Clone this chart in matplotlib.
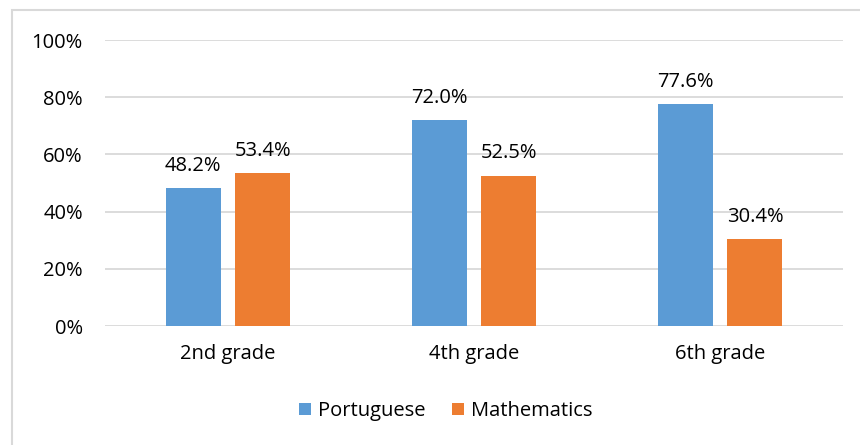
import matplotlib.pyplot as plt
from matplotlib.patches import Rectangle
import numpy as np

categories = ["2nd grade", "4th grade", "6th grade"]
portuguese = [48.2, 72.0, 77.6]
mathematics = [53.4, 52.5, 30.4]
yticks = [0, 20, 40, 60, 80, 100]
ytick_labels = ["0%", "20%", "40%", "60%", "80%", "100%"]

blue = "#5B9BD5"
orange = "#ED7D31"
grid = "#D9D9D9"
text_color = "#000000"
fs = 14.5

plt.rcParams["font.family"] = ["Open Sans", "DejaVu Sans"]

fig = plt.figure(figsize=(8.6, 4.45), dpi=100)
ax = fig.add_axes([105 / 860, 1 - 326 / 445, 738 / 860, 286 / 445])

x = np.arange(len(categories))
width = 0.224
offset = 0.142
b1 = ax.bar(x - offset, portuguese, width, color=blue, label="Portuguese", zorder=3)
b2 = ax.bar(x + offset, mathematics, width, color=orange, label="Mathematics", zorder=3)

for bars, vals in ((b1, portuguese), (b2, mathematics)):
    for rect, v in zip(bars, vals):
        ax.annotate(f"{v:.1f}%", (rect.get_x() + rect.get_width() / 2, v),
                    xytext=(0, 9), textcoords="offset points",
                    ha="center", va="bottom", fontsize=fs, color=text_color)

ax.set_xlim(-0.5, 2.5)
ax.set_ylim(0, 100)
ax.set_yticks(yticks)
ax.set_yticklabels(ytick_labels, fontsize=fs, color=text_color)
ax.set_xticks(x)
ax.set_xticklabels(categories, fontsize=fs, color=text_color)
ax.tick_params(axis="both", length=0)
ax.tick_params(axis="y", pad=16)
ax.tick_params(axis="x", pad=13)
ax.yaxis.grid(True, color=grid, linewidth=1.3, zorder=0)
for s in ax.spines.values():
    s.set_visible(False)

fig.legend(handles=[b1, b2], labels=["Portuguese", "Mathematics"],
           loc="center", bbox_to_anchor=(446 / 860, 1 - 411 / 445),
           ncol=2, frameon=False, fontsize=fs, handlelength=0.6,
           handleheight=0.6, handletextpad=0.35, columnspacing=1.3)

# chart area border
fig.patches.append(Rectangle((11.5 / 860, -0.1), 1.2, 1 - 10.5 / 445 + 0.1,
                             transform=fig.transFigure, fill=False,
                             edgecolor="#D9D9D9", linewidth=1.5))

fig.savefig("out.png", dpi=100)
